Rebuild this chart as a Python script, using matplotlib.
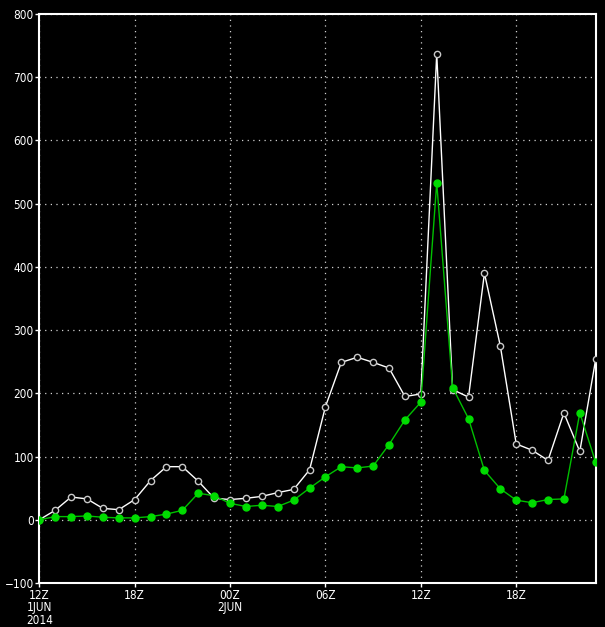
import matplotlib
matplotlib.use("Agg")
import matplotlib.pyplot as plt
import numpy as np

hours = list(range(36))
white_vals = [0, 15, 36, 33, 18, 16, 32, 62, 84, 84, 61, 34, 32, 34, 37, 43, 48, 79,
              179, 249, 257, 249, 240, 195, 199, 737, 206, 194, 390, 275, 120, 110, 94, 169, 108, 254]
green_vals = [0, 5, 5, 6, 4, 3, 3, 5, 9, 15, 42, 38, 26, 21, 23, 21, 31, 50,
              68, 84, 82, 85, 119, 158, 186, 533, 209, 160, 78, 49, 31, 27, 32, 33, 169, 91]
xtick_pos = [0, 6, 12, 18, 24, 30]
xtick_labels = ["12Z\n1JUN\n2014", "18Z", "00Z\n2JUN", "06Z", "12Z", "18Z"]
ytick_vals = [-100, 0, 100, 200, 300, 400, 500, 600, 700, 800]

fig = plt.figure(figsize=(6.05, 6.27), dpi=100, facecolor="black")
ax = fig.add_axes([39.3/605, 1-583/627, (595.7-39.3)/605, (583-14)/627])
ax.set_facecolor("black")

ax.plot(hours, white_vals, color="white", lw=1.0, marker="o", ms=4.5,
        mfc="black", mec="#c8c8c8", mew=1.0, zorder=3)
ax.plot(hours, green_vals, color="#00c000", lw=1.0, marker="o", ms=5,
        mfc="#00dc00", mec="#00dc00", zorder=4)

ax.set_xlim(0, 35)
ax.set_ylim(-100, 800)
ax.set_xticks(xtick_pos)
ax.set_xticklabels(xtick_labels, linespacing=0.95, multialignment="center")
ax.set_yticks(ytick_vals)
ax.set_yticklabels([("\u2212" + str(-v)) if v < 0 else str(v) for v in ytick_vals])
ax.grid(True, color="#d0d0d0", linestyle=(0, (1, 3.5)), lw=0.9)
for s in ax.spines.values():
    s.set_color("white")
    s.set_linewidth(1.5)
ax.tick_params(colors="white", labelsize=8.5, length=3, width=1, pad=1)
for lab in ax.get_xticklabels() + ax.get_yticklabels():
    lab.set_fontstretch("condensed")
    lab.set_family("DejaVu Sans")

fig.savefig("out.png", dpi=100, facecolor="black")
